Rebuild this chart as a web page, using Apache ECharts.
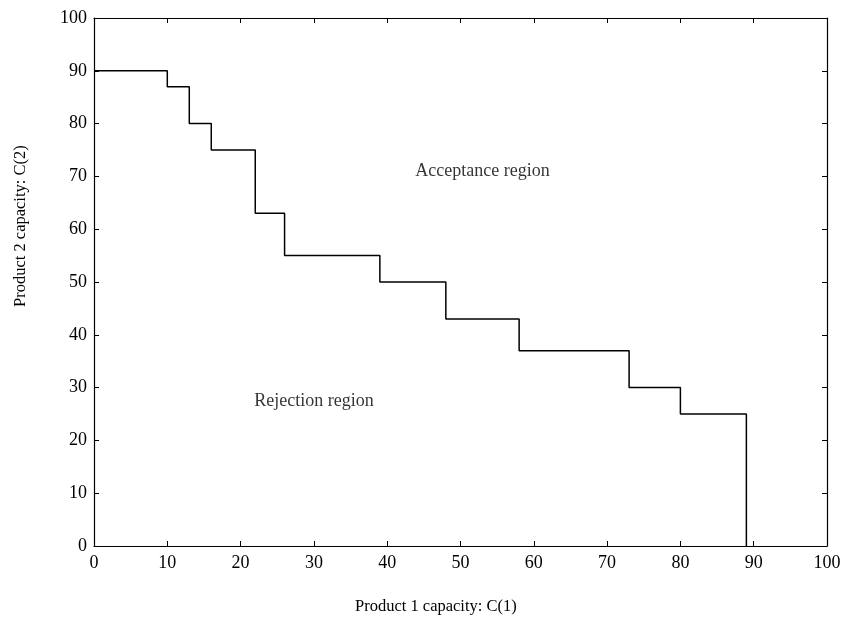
<!DOCTYPE html>
<html><head><meta charset="utf-8">
<script src="https://cdn.jsdelivr.net/npm/echarts@6/dist/echarts.min.js"></script>
<style>html,body{margin:0;padding:0;background:#fff}#c{width:845px;height:617px}</style>
</head><body><div id="c"></div>
<script>
const stepX = [0, 10, 13, 16, 22, 26, 39, 48, 58, 73, 80, 89];
const stepY = [90, 87, 80, 75, 63, 55, 50, 43, 37, 30, 25, 0];
const xTicks = [0, 10, 20, 30, 40, 50, 60, 70, 80, 90, 100];
const yTicks = [0, 10, 20, 30, 40, 50, 60, 70, 80, 90, 100];
const regionLabels = ['Acceptance region', 'Rejection region'];
const regionPos = [[53, 71], [30, 27.5]];
const xName = 'Product 1 capacity: C(1)';
const yName = 'Product 2 capacity: C(2)';

const font = 'Liberation Serif';
const axBase = {
  type: 'value', min: 0, max: 100, interval: 10,
  splitLine: {show: false},
  axisLine: {show: true, onZero: false, lineStyle: {color: '#000', width: 1.2}},
  axisTick: {show: true, inside: true, length: 5, lineStyle: {color: '#000', width: 1}},
};
const chart = echarts.init(document.getElementById('c'));
chart.setOption({
  animation: false,
  backgroundColor: '#fff',
  grid: {left: 94, right: 18, top: 18, bottom: 71},
  xAxis: [
    Object.assign({}, axBase, {position: 'bottom',
      axisLabel: {fontFamily: font, fontSize: 18, color: '#000', margin: 8,
        formatter: v => xTicks.includes(v) ? String(v) : ''}}),
    Object.assign({}, axBase, {position: 'top', axisLabel: {show: false}})
  ],
  yAxis: [
    Object.assign({}, axBase, {position: 'left',
      axisLabel: {fontFamily: font, fontSize: 18, color: '#000', margin: 7,
        formatter: v => yTicks.includes(v) ? String(v) : ''}}),
    Object.assign({}, axBase, {position: 'right', axisLabel: {show: false}})
  ],
  graphic: [
    {type: 'text', left: 437 - 82, top: 598,
      style: {text: xName, font: '16.5px "Liberation Serif"', fill: '#000'}},
    {type: 'text', x: 12, y: 225 + 82, rotation: Math.PI / 2,
      style: {text: yName, font: '16.5px "Liberation Serif"', fill: '#000',
        textAlign: 'left', textVerticalAlign: 'top'}}
  ],
  series: [
    {type: 'line', step: 'end', symbol: 'none', xAxisIndex: 0, yAxisIndex: 0,
      lineStyle: {color: '#000', width: 1.5},
      data: stepX.map((x, i) => [x, stepY[i]])},
    {type: 'scatter', symbolSize: 0, xAxisIndex: 0, yAxisIndex: 0,
      label: {show: true, position: 'inside', fontFamily: font, fontSize: 18, color: '#000',
        formatter: p => regionLabels[p.dataIndex]},
      data: regionPos}
  ]
});
</script></body></html>
